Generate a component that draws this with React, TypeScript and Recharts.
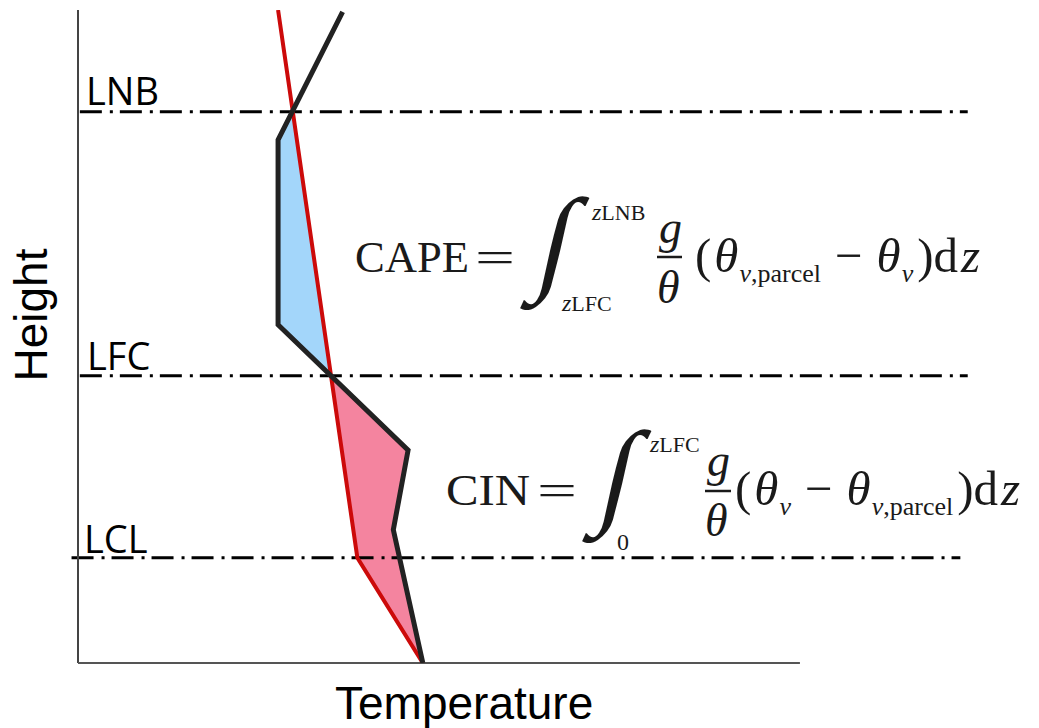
import React from 'react';
import { ComposedChart, Line, Area, XAxis, YAxis, ReferenceLine } from 'recharts';

// heights in arbitrary units (0 = ground, 100 = top of the plot)
const levelNames = ['LNB', 'LFC', 'LCL'];
const levelHeights = [84.4, 44.0, 16.1];

// environment profile (black line)
const envHeights = [0, 20.4, 32.6, 51.8, 80.1, 99.7];
const envTemps = [37.4, 34.2, 35.8, 21.7, 21.7, 28.7];

// rising parcel (red line)
const parcelHeights = [0, 16.1, 100];
const parcelTemps = [37.4, 30.3, 21.7];

// CAPE band between LFC and LNB
const capeHeights = [44.0, 51.8, 80.1, 84.4];
const capeEnv = [27.4, 21.7, 21.7, 23.3];
const capeParcel = [27.4, 26.6, 23.7, 23.3];

// CIN band between the ground and LFC
const cinHeights = [0, 16.1, 20.4, 32.6, 44.0];
const cinParcel = [37.4, 30.3, 29.8, 28.6, 27.4];
const cinEnv = [37.4, 34.8, 34.2, 35.8, 27.4];

const envData = envHeights.map((z, i) => ({ z, t: envTemps[i] }));
const parcelData = parcelHeights.map((z, i) => ({ z, t: parcelTemps[i] }));
const capeData = capeHeights.map((z, i) => ({ z, band: [capeEnv[i], capeParcel[i]] }));
const cinData = cinHeights.map((z, i) => ({ z, band: [cinParcel[i], cinEnv[i]] }));

const dashLines = [
  { from: 0.2, to: 96.5 },
  { from: 0.2, to: 96.5 },
  { from: -0.7, to: 95.7 },
];

const serif = '"Liberation Serif", "Times New Roman", serif';
const sans = '"Liberation Sans", Arial, sans-serif';
const labelFont = '"Open Sans", sans-serif';
const ink = '#1a1a1a';

const Integral = ({ x, y }: { x: number; y: number }) => (
  <text transform={`translate(${x},${y}) skewX(-13)`} fontSize={116}>∫</text>
);

const Formulas = () => (
  <svg width={1039} height={728} style={{ position: 'absolute', left: 0, top: 0, pointerEvents: 'none' }}>
    <g fontFamily={serif} fill={ink}>
      {/* CAPE */}
      <text x={355} y={272} fontSize={45} textLength={114} lengthAdjust="spacingAndGlyphs">CAPE</text>
      <text x={475} y={272} fontSize={45} textLength={40} lengthAdjust="spacingAndGlyphs">=</text>
      <Integral x={533} y={279} />
      <text x={592} y={220} fontSize={24}>
        <tspan fontStyle="italic">z</tspan>
        <tspan fontSize={22}>LNB</tspan>
      </text>
      <text x={562} y={311} fontSize={24}>
        <tspan fontStyle="italic">z</tspan>
        <tspan fontSize={22}>LFC</tspan>
      </text>
      <text x={659} y={243} fontSize={46} fontStyle="italic">g</text>
      <line x1={657} x2={682} y1={257} y2={257} stroke={ink} strokeWidth={2.5} />
      <text x={657} y={303} fontSize={46} fontStyle="italic">θ</text>
      <text x={695} y={272} fontSize={49}>
        <tspan>(</tspan>
        <tspan fontStyle="italic" dx={3}>θ</tspan>
        <tspan fontSize={26} fontStyle="italic" dy={10} dx={1}>v</tspan>
        <tspan fontSize={26}>,parcel</tspan>
        <tspan dy={-10} dx={14}>−</tspan>
        <tspan fontStyle="italic" dx={14}>θ</tspan>
        <tspan fontSize={26} fontStyle="italic" dy={10} dx={1}>v</tspan>
        <tspan dy={-10} dx={4}>)d</tspan>
        <tspan fontStyle="italic" dx={3}>z</tspan>
      </text>

      {/* CIN */}
      <text x={446} y={505} fontSize={45} textLength={84} lengthAdjust="spacingAndGlyphs">CIN</text>
      <text x={537} y={505} fontSize={45} textLength={40} lengthAdjust="spacingAndGlyphs">=</text>
      <Integral x={595} y={512} />
      <text x={650} y={452} fontSize={24}>
        <tspan fontStyle="italic">z</tspan>
        <tspan fontSize={22}>LFC</tspan>
      </text>
      <text x={617} y={550} fontSize={24}>0</text>
      <text x={707} y={476} fontSize={46} fontStyle="italic">g</text>
      <line x1={705} x2={731} y1={491} y2={491} stroke={ink} strokeWidth={2.5} />
      <text x={705} y={536} fontSize={46} fontStyle="italic">θ</text>
      <text x={735} y={505} fontSize={49}>
        <tspan>(</tspan>
        <tspan fontStyle="italic" dx={3}>θ</tspan>
        <tspan fontSize={26} fontStyle="italic" dy={10} dx={1}>v</tspan>
        <tspan dy={-10} dx={14}>−</tspan>
        <tspan fontStyle="italic" dx={14}>θ</tspan>
        <tspan fontSize={26} fontStyle="italic" dy={10} dx={1}>v</tspan>
        <tspan fontSize={26}>,parcel</tspan>
        <tspan dy={-10} dx={4}>)d</tspan>
        <tspan fontStyle="italic" dx={3}>z</tspan>
      </text>
    </g>

    {/* level names */}
    <g fontFamily={labelFont} fontSize={38} fill="#000">
      <text x={86} y={105}>{levelNames[0]}</text>
      <text x={87} y={370}>{levelNames[1]}</text>
      <text x={84} y={553}>{levelNames[2]}</text>
    </g>

    {/* axis titles */}
    <text x={335} y={719} fontFamily={sans} fontSize={46} fill="#000">Temperature</text>
    <text transform="translate(47,315) rotate(-90)" textAnchor="middle" fontFamily={sans} fontSize={46} fill="#000">Height</text>
  </svg>
);

export default function App() {
  return (
    <div style={{ position: 'absolute', left: 0, top: 0, width: 1039, height: 728, background: '#fff' }}>
      <ComposedChart
        layout="vertical"
        width={1039}
        height={728}
        margin={{ top: 10, right: 39, bottom: 65, left: 78 }}
      >
        <XAxis type="number" domain={[0, 100]} allowDataOverflow hide />
        <YAxis type="number" dataKey="z" domain={[0, 100]} allowDataOverflow reversed hide />
        <Area data={capeData} dataKey="band" type="linear" stroke="none" fill="#a3d6fa" fillOpacity={1} isAnimationActive={false} />
        <Area data={cinData} dataKey="band" type="linear" stroke="none" fill="#f4849f" fillOpacity={1} isAnimationActive={false} />
        {levelHeights.map((h, i) => (
          <ReferenceLine
            key={levelNames[i]}
            segment={[{ x: dashLines[i].from, y: h }, { x: dashLines[i].to, y: h }]}
            stroke="#000"
            strokeWidth={3}
            strokeDasharray="22 8 3 7"
            ifOverflow="visible"
          />
        ))}
        <ReferenceLine segment={[{ x: 0, y: 0 }, { x: 0, y: 100 }]} stroke="#444" strokeWidth={2} ifOverflow="visible" />
        <ReferenceLine segment={[{ x: 0, y: 0 }, { x: 78.3, y: 0 }]} stroke="#555" strokeWidth={2} ifOverflow="visible" />
        <Line data={parcelData} dataKey="t" type="linear" stroke="#cc0a0a" strokeWidth={4} dot={false} isAnimationActive={false} />
        <Line data={envData} dataKey="t" type="linear" stroke="#222" strokeWidth={5} dot={false} isAnimationActive={false} />
      </ComposedChart>
      <Formulas />
    </div>
  );
}
